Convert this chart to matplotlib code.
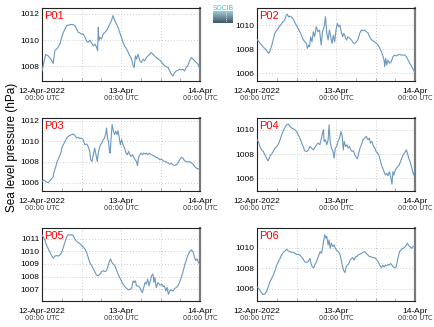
"""
Sea level pressure at six stations, 12-14 April 2022.
"""
import numpy as np
import pandas as pd
import matplotlib
matplotlib.use('Agg')
import matplotlib.pyplot as plt
import matplotlib.dates as mdates
from matplotlib.colors import LinearSegmentedColormap

plt.rcParams['font.family'] = ['Liberation Sans', 'DejaVu Sans']

START = pd.Timestamp('2022-04-12 00:00')
END = pd.Timestamp('2022-04-14 00:00')

station_names = ['P01', 'P02', 'P03', 'P04', 'P05', 'P06']
day_labels = ['12-Apr-2022', '13-Apr', '14-Apr']
time_labels = ['00:00 UTC', '00:00 UTC', '00:00 UTC']

# hours since 12-Apr 00:00 UTC and pressure (hPa)
hours_p01 = [0, 1.1, 1.9, 2.9, 3.4, 3.9, 4.4, 4.9, 5.5, 6.0, 6.5, 7.0, 7.5, 8.5, 9.5, 10.0, 10.5, 11.0,
             11.5, 12.0, 12.5, 13.0, 13.5, 14.0, 14.5, 15.1, 15.6, 16.1, 16.6, 16.9, 17.1, 17.3, 17.6,
             18.1, 18.6, 19.1, 19.6, 20.1, 20.6, 21.1, 21.6, 22.1, 22.6, 23.1, 23.6, 24.1, 24.6, 25.1,
             25.7, 26.2, 26.7, 27.2, 27.7, 28.0, 28.4, 28.7, 29.2, 29.7, 30.2, 30.7, 31.2, 31.7, 32.2,
             32.7, 33.2, 33.7, 34.2, 34.7, 35.3, 35.8, 36.3, 36.8, 37.3, 37.8, 38.3, 38.8, 39.3, 39.8,
             40.3, 40.8, 41.3, 41.8, 42.3, 42.8, 43.3, 43.8, 44.3, 44.8, 45.4, 45.9, 46.4, 46.9, 47.4, 48.0]
slp_p01 = [1007.64, 1008.90, 1008.79, 1008.46, 1008.21, 1009.18, 1009.31, 1009.44, 1009.74, 1010.21,
           1010.59, 1010.85, 1011.10, 1011.18, 1011.18, 1011.10, 1010.85, 1010.59, 1010.54, 1010.46,
           1010.46, 1010.26, 1009.95, 1009.82, 1010.00, 1009.74, 1009.56, 1009.69, 1009.44, 1009.18,
           1010.97, 1009.95, 1010.21, 1010.08, 1010.46, 1010.59, 1010.72, 1010.97, 1011.23, 1011.49,
           1011.87, 1011.49, 1011.23, 1010.97, 1010.59, 1010.21, 1009.82, 1009.56, 1009.31, 1009.05,
           1008.79, 1008.54, 1008.03, 1007.90, 1008.79, 1008.54, 1008.92, 1008.41, 1008.28, 1008.54,
           1008.41, 1008.67, 1008.79, 1008.92, 1009.05, 1008.92, 1008.79, 1008.67, 1008.54, 1008.46,
           1008.33, 1008.15, 1008.03, 1007.95, 1007.90, 1007.64, 1007.38, 1007.26, 1007.51, 1007.64,
           1007.69, 1007.77, 1007.72, 1007.77, 1007.64, 1007.90, 1008.03, 1008.41, 1008.67, 1008.54,
           1008.41, 1008.28, 1008.15, 1007.77]

hours_p02 = [0.0, 0.8, 1.8, 2.8, 3.3, 3.6, 4.4, 4.9, 5.4, 5.9, 6.4, 6.9, 7.4, 7.9, 8.4, 8.9, 9.2, 9.6,
             10.2, 10.9, 11.4, 11.9, 12.5, 13.0, 13.5, 14.0, 14.5, 15.0, 15.3, 15.7, 16.0, 16.3, 16.7,
             17.1, 17.5, 18.0, 18.5, 19.0, 19.5, 19.9, 20.4, 20.8, 21.2, 21.6, 22.0, 22.4, 22.8, 23.2,
             23.6, 24.0, 24.4, 24.8, 25.2, 25.6, 26.0, 26.4, 26.8, 27.2, 27.6, 28.2, 28.7, 29.2, 29.7,
             30.2, 30.7, 31.2, 31.7, 32.2, 32.7, 33.2, 33.7, 34.2, 34.7, 35.2, 35.7, 36.3, 36.8, 37.3,
             37.8, 38.3, 38.6, 38.8, 39.1, 39.4, 39.8, 40.3, 40.8, 41.3, 41.8, 42.3, 42.8, 43.3, 43.8,
             44.4, 44.9, 45.4, 45.9, 46.4, 46.9, 47.4, 48.0]
slp_p02 = [1008.81, 1008.54, 1008.21, 1007.93, 1007.71, 1007.66, 1008.21, 1008.76, 1009.31, 1009.53,
           1009.72, 1009.92, 1010.08, 1010.28, 1010.41, 1010.83, 1010.91, 1010.69, 1010.74, 1010.55,
           1010.28, 1010.00, 1009.72, 1009.45, 1009.17, 1008.81, 1008.62, 1008.48, 1008.07, 1008.34,
           1008.21, 1009.03, 1008.62, 1009.45, 1009.03, 1009.86, 1009.45, 1009.59, 1008.34, 1009.45,
           1009.86, 1010.69, 1009.31, 1008.76, 1009.59, 1009.03, 1008.48, 1009.17, 1008.62, 1009.59,
           1010.14, 1009.86, 1010.00, 1009.45, 1009.03, 1009.31, 1009.03, 1008.76, 1009.03, 1008.90,
           1008.76, 1008.54, 1008.48, 1008.62, 1008.81, 1009.31, 1009.59, 1009.53, 1009.59, 1009.45,
           1009.37, 1009.03, 1008.81, 1008.70, 1008.62, 1008.48, 1008.34, 1008.07, 1007.79, 1007.38,
           1007.10, 1006.55, 1007.24, 1006.69, 1007.10, 1006.83, 1006.97, 1007.38, 1007.52, 1007.43,
           1007.52, 1007.57, 1007.52, 1007.52, 1007.52, 1007.38, 1007.10, 1006.83, 1006.61, 1006.33,
           1006.06]

hours_p03 = [0, 0.4, 0.9, 1.4, 1.9, 2.4, 2.9, 3.4, 3.7, 4.2, 4.6, 5.3, 5.7, 6.1, 6.5, 7.0, 7.5, 8.0, 8.5,
             9.0, 9.5, 10.0, 10.5, 11.0, 11.5, 12.0, 12.5, 13.0, 13.6, 14.0, 14.5, 14.8, 15.2, 15.6,
             16.0, 16.4, 16.8, 17.1, 17.4, 17.8, 18.2, 18.6, 19.0, 19.4, 19.6, 19.9, 20.2, 20.5, 20.7,
             21.0, 21.3, 21.6, 22.0, 22.4, 22.8, 23.1, 23.4, 23.8, 24.2, 24.6, 25.1, 25.5, 25.9, 26.3,
             26.7, 27.1, 27.5, 27.9, 28.3, 28.7, 29.0, 29.3, 29.7, 30.1, 30.5, 30.9, 31.3, 31.7, 32.1,
             32.5, 32.9, 33.3, 33.7, 34.2, 34.7, 35.3, 35.8, 36.3, 36.8, 37.3, 37.8, 38.3, 38.8, 39.3,
             39.8, 40.3, 40.8, 41.3, 41.8, 42.3, 42.8, 43.3, 43.8, 44.3, 44.8, 45.4, 45.9, 46.4, 46.9,
             47.4, 48.0]
slp_p03 = [1006.10, 1006.27, 1006.17, 1006.04, 1006.01, 1006.17, 1006.36, 1006.59, 1007.08, 1007.56,
           1008.05, 1008.54, 1008.86, 1009.42, 1009.68, 1010.00, 1010.32, 1010.49, 1010.58, 1010.65,
           1010.71, 1010.58, 1010.32, 1010.39, 1010.26, 1010.32, 1010.16, 1009.68, 1009.74, 1009.51,
           1009.03, 1008.21, 1008.05, 1008.70, 1009.35, 1008.70, 1008.05, 1008.86, 1009.35, 1009.68,
           1009.84, 1010.16, 1010.32, 1010.81, 1011.30, 1010.32, 1010.00, 1009.03, 1008.86, 1010.32,
           1011.62, 1011.14, 1010.65, 1010.97, 1010.65, 1011.04, 1010.49, 1009.68, 1010.16, 1009.68,
           1009.35, 1008.86, 1008.70, 1009.03, 1008.70, 1008.54, 1008.70, 1008.44, 1008.21, 1008.05,
           1007.66, 1008.38, 1008.70, 1008.86, 1008.70, 1008.86, 1008.77, 1008.86, 1008.70, 1008.86,
           1008.77, 1008.70, 1008.64, 1008.54, 1008.44, 1008.38, 1008.21, 1008.28, 1008.12, 1008.05,
           1007.99, 1007.89, 1007.79, 1007.86, 1007.73, 1007.66, 1007.73, 1007.89, 1008.21, 1008.44,
           1008.38, 1008.12, 1008.05, 1007.99, 1008.05, 1007.89, 1007.79, 1007.56, 1007.40, 1007.34,
           1007.24]

hours_p04 = [0, 0.4, 0.9, 1.4, 1.9, 2.4, 2.9, 3.4, 3.9, 4.4, 4.9, 5.5, 6.0, 6.5, 7.0, 7.5, 8.0, 8.5, 9.0,
             9.5, 10.0, 10.5, 11.0, 11.5, 12.0, 12.5, 13.0, 13.5, 14.0, 14.5, 15.1, 15.6, 16.1, 16.6,
             17.1, 17.6, 18.1, 18.6, 19.1, 19.6, 19.9, 20.2, 20.4, 20.8, 21.2, 21.6, 21.9, 22.2, 22.6,
             23.1, 23.4, 23.8, 24.2, 24.6, 25.1, 25.5, 25.9, 26.2, 26.5, 26.9, 27.3, 27.7, 28.1, 28.5,
             28.9, 29.3, 29.7, 30.2, 30.5, 30.9, 31.3, 31.7, 32.2, 32.7, 33.2, 33.7, 34.1, 34.5, 34.9,
             35.4, 35.8, 36.2, 36.6, 37.0, 37.4, 37.8, 38.2, 38.6, 39.0, 39.4, 39.8, 40.2, 40.6, 41.0,
             41.3, 41.6, 42.0, 42.4, 42.8, 43.2, 43.6, 44.0, 44.4, 44.8, 45.4, 45.7, 46.1, 46.5, 46.9,
             47.3, 47.6, 48.0]
slp_p04 = [1009.17, 1009.03, 1008.62, 1008.34, 1008.21, 1007.93, 1007.66, 1007.43, 1007.79, 1007.99,
           1008.21, 1008.48, 1008.62, 1008.81, 1009.17, 1009.59, 1009.92, 1010.19, 1010.41, 1010.47,
           1010.28, 1010.14, 1010.08, 1010.00, 1009.86, 1009.59, 1009.31, 1008.98, 1008.62, 1008.26,
           1008.21, 1008.34, 1008.62, 1008.48, 1008.34, 1008.54, 1008.76, 1008.90, 1008.76, 1009.31,
           1009.72, 1010.00, 1009.03, 1009.17, 1008.76, 1009.17, 1010.41, 1009.03, 1008.48, 1008.21,
           1007.66, 1008.48, 1008.62, 1009.03, 1009.31, 1009.86, 1009.45, 1008.34, 1009.03, 1008.62,
           1008.76, 1008.48, 1008.62, 1008.34, 1008.21, 1008.26, 1007.93, 1007.71, 1007.60, 1008.07,
           1008.48, 1008.76, 1009.17, 1009.31, 1009.45, 1009.17, 1009.31, 1008.90, 1009.03, 1008.62,
           1008.48, 1008.21, 1008.07, 1007.93, 1007.52, 1007.10, 1006.83, 1006.55, 1006.28, 1006.41,
           1006.22, 1006.55, 1006.14, 1005.53, 1006.55, 1006.28, 1006.69, 1006.83, 1006.97, 1007.10,
           1007.38, 1007.66, 1007.93, 1008.07, 1008.34, 1008.07, 1007.66, 1007.38, 1006.97, 1006.55,
           1006.28, 1006.69]

hours_p05 = [0, 0.4, 0.9, 1.4, 1.9, 2.4, 2.9, 3.4, 3.9, 4.4, 4.9, 5.5, 6.0, 6.5, 7.0, 7.5, 7.8, 8.2, 8.7,
             9.1, 9.5, 10.0, 10.5, 11.0, 11.5, 12.0, 12.5, 13.0, 13.6, 14.0, 14.5, 15.1, 15.6, 16.1,
             16.6, 17.1, 17.6, 18.1, 18.6, 19.1, 19.6, 20.1, 20.4, 20.8, 21.2, 21.6, 22.1, 22.6, 23.1,
             23.6, 24.1, 24.6, 25.2, 25.7, 26.2, 26.7, 27.2, 27.7, 28.0, 28.4, 28.7, 29.2, 29.7, 30.2,
             30.5, 30.9, 31.3, 31.7, 32.1, 32.5, 32.9, 33.3, 33.7, 34.0, 34.3, 34.7, 35.2, 35.6, 36.0,
             36.4, 36.8, 37.2, 37.6, 38.0, 38.4, 38.8, 39.3, 39.8, 40.3, 40.8, 41.3, 41.8, 42.3, 42.8,
             43.3, 43.8, 44.3, 44.8, 45.4, 45.9, 46.3, 46.7, 47.1, 47.5, 48.0]
slp_p05 = [1011.29, 1011.15, 1010.89, 1010.48, 1010.21, 1009.95, 1009.68, 1009.46, 1009.62, 1009.68,
           1009.62, 1009.73, 1009.95, 1010.35, 1010.75, 1011.15, 1011.29, 1011.34, 1011.29, 1011.34,
           1011.23, 1010.97, 1010.81, 1010.70, 1010.62, 1010.48, 1010.35, 1010.21, 1009.89, 1009.54,
           1009.14, 1008.87, 1008.60, 1008.34, 1008.12, 1008.07, 1008.20, 1008.39, 1008.47, 1008.39,
           1008.47, 1008.87, 1009.14, 1009.41, 1009.14, 1009.01, 1008.87, 1008.55, 1008.20, 1007.93,
           1007.66, 1007.40, 1007.21, 1007.05, 1006.94, 1006.99, 1007.05, 1007.66, 1007.53, 1007.66,
           1007.26, 1007.26, 1007.13, 1006.86, 1006.72, 1007.13, 1007.53, 1007.40, 1007.80, 1007.26,
           1007.66, 1008.07, 1008.20, 1007.53, 1007.93, 1007.13, 1007.53, 1007.40, 1007.32, 1007.40,
           1007.21, 1007.26, 1006.86, 1007.13, 1006.59, 1006.86, 1006.94, 1006.86, 1007.05, 1007.13,
           1007.26, 1007.53, 1007.93, 1008.34, 1008.87, 1009.28, 1009.68, 1009.95, 1010.13, 1009.95,
           1009.54, 1009.28, 1009.41, 1009.14, 1008.93]

hours_p06 = [0, 0.4, 0.9, 1.4, 1.9, 2.4, 2.9, 3.4, 3.9, 4.4, 4.9, 5.5, 6.0, 6.5, 7.0, 7.5, 8.0, 8.5, 9.0,
             9.5, 10.0, 10.5, 11.0, 11.5, 12.0, 12.5, 13.0, 13.5, 14.0, 14.5, 15.1, 15.6, 16.1, 16.4,
             16.8, 17.2, 17.6, 18.1, 18.4, 18.8, 19.2, 19.6, 19.9, 20.2, 20.6, 20.9, 21.2, 21.6, 21.9,
             22.2, 22.6, 23.0, 23.4, 23.8, 24.2, 24.6, 25.1, 25.5, 25.9, 26.3, 26.7, 27.1, 27.5, 27.9,
             28.3, 28.7, 29.1, 29.5, 29.9, 30.3, 30.7, 31.2, 31.7, 32.2, 32.7, 33.2, 33.7, 34.2, 34.7,
             35.3, 35.8, 36.3, 36.8, 37.3, 37.8, 38.2, 38.6, 39.0, 39.4, 39.8, 40.2, 40.6, 41.0, 41.4,
             41.8, 42.3, 42.8, 43.3, 43.8, 44.3, 44.8, 45.4, 45.7, 46.1, 46.5, 46.9, 47.4, 48.0]
slp_p06 = [1006.16, 1006.07, 1005.84, 1005.61, 1005.44, 1005.51, 1005.74, 1006.16, 1006.66, 1006.98,
           1007.31, 1007.80, 1008.30, 1008.62, 1008.95, 1009.28, 1009.54, 1009.67, 1009.84, 1009.67,
           1009.61, 1009.54, 1009.54, 1009.44, 1009.34, 1009.34, 1009.28, 1009.11, 1008.89, 1008.62,
           1008.56, 1008.69, 1008.95, 1008.46, 1008.13, 1008.03, 1008.36, 1008.62, 1008.95, 1009.28,
           1009.61, 1009.44, 1009.93, 1010.59, 1011.25, 1010.92, 1011.08, 1010.26, 1010.75, 1009.93,
           1010.43, 1010.10, 1010.26, 1009.93, 1009.77, 1009.61, 1009.44, 1008.95, 1008.30, 1007.80,
           1007.57, 1008.13, 1008.30, 1008.46, 1008.79, 1008.95, 1009.02, 1008.79, 1009.11, 1009.11,
           1009.28, 1009.34, 1009.44, 1009.54, 1009.61, 1009.44, 1009.28, 1009.11, 1009.11, 1009.02,
           1009.02, 1008.85, 1008.62, 1008.30, 1008.03, 1008.30, 1008.13, 1008.30, 1008.23, 1008.36,
           1008.30, 1008.46, 1008.30, 1008.13, 1008.03, 1008.13, 1008.95, 1009.61, 1009.77, 1009.93,
           1010.00, 1010.26, 1010.43, 1010.20, 1010.10, 1009.93, 1010.10, 1010.10]

all_hours = [hours_p01, hours_p02, hours_p03, hours_p04, hours_p05, hours_p06]
all_slp = [slp_p01, slp_p02, slp_p03, slp_p04, slp_p05, slp_p06]

# y-axis ticks and limits per panel
y_ticks = [[1008, 1010, 1012], [1006, 1008, 1010], [1006, 1008, 1010, 1012],
           [1006, 1008, 1010], [1007, 1008, 1009, 1010, 1011], [1006, 1008, 1010]]
y_lims = [(1006.87, 1012.45), (1005.36, 1011.42), (1005.19, 1012.26),
          (1004.96, 1010.96), (1006.06, 1011.86), (1004.82, 1011.9)]

LINE_COLOR = '#6b97bf'
W, H = 435, 327

fig = plt.figure(figsize=(W / 100, H / 100), dpi=100)

lefts = [42, 257]
tops = [8, 118, 228]
ax_w, ax_h = 158, 73

for i, name in enumerate(station_names):
    row, col = divmod(i, 2)
    ax = fig.add_axes([lefts[col] / W, 1 - (tops[row] + ax_h) / H, ax_w / W, ax_h / H])
    times = START + pd.to_timedelta(all_hours[i], unit='h')
    ax.plot(times, all_slp[i], color=LINE_COLOR, lw=0.8, zorder=3)

    ax.set_xlim(START, END)
    ax.set_ylim(*y_lims[i])
    ax.set_yticks(y_ticks[i])
    ax.set_yticklabels([str(t) for t in y_ticks[i]], fontsize=6)

    grid_x = pd.date_range(START, END, freq='12h')
    for gx in grid_x[1:-1]:
        ax.axvline(gx, color='#bdbdbd', lw=0.6, ls=(0, (1, 2.5)), zorder=1)
    for gy in y_ticks[i]:
        ax.axhline(gy, color='#bdbdbd', lw=0.6, ls=(0, (1, 2.5)), zorder=1)

    day_ticks = pd.date_range(START, END, freq='D')
    ax.set_xticks(day_ticks)
    ax.set_xticklabels(day_labels, fontsize=6)
    ax.xaxis.set_minor_locator(mdates.HourLocator(byhour=[6, 12, 18]))
    ax.tick_params(axis='both', which='both', direction='in', length=0, pad=2)
    ax.tick_params(axis='x', which='major', pad=5)
    ax.tick_params(axis='x', which='minor', length=2, color='#a0a0a0', width=0.6)

    for d, lab in zip(day_ticks, time_labels):
        ax.annotate(lab, xy=(d, 0), xycoords=('data', 'axes fraction'),
                    xytext=(0, -12.5), textcoords='offset points',
                    ha='center', va='center', fontsize=4.8, color='#333333',
                    family=['DejaVu Sans'])

    for side in ['left', 'bottom', 'top']:
        ax.spines[side].set_linewidth(0.8)
        ax.spines[side].set_color('#222222')
    ax.spines['right'].set_linewidth(1.6)
    ax.spines['right'].set_color('#7a7a7a')

    ax.text(0.012, 0.965, name, transform=ax.transAxes, ha='left', va='top',
            color='red', fontsize=8, zorder=4)

fig.text(12 / W, 1 - 147 / H, 'Sea level pressure (hPa)', rotation=90,
         ha='center', va='center', fontsize=8.5)

# small logo at the top
logo = fig.add_axes([213 / W, 1 - 23 / H, 20 / W, 12 / H])
cmap = LinearSegmentedColormap.from_list('logo', ['#9ccad6', '#3f5868'])
logo.imshow(np.linspace(0, 1, 20).reshape(-1, 1), cmap=cmap, aspect='auto',
            extent=[0, 20, 20, 0])
logo.plot([13, 13], [2, 18], color='white', lw=0.6, ls=(0, (1, 1.5)))
logo.set_xlim(0, 20)
logo.set_ylim(20, 0)
logo.axis('off')
fig.text(223 / W, 1 - 7.5 / H, 'SOCIB', ha='center', va='center',
         fontsize=5, color='#47b8d4', family=['DejaVu Sans'])

fig.savefig('out.png', dpi=100)
